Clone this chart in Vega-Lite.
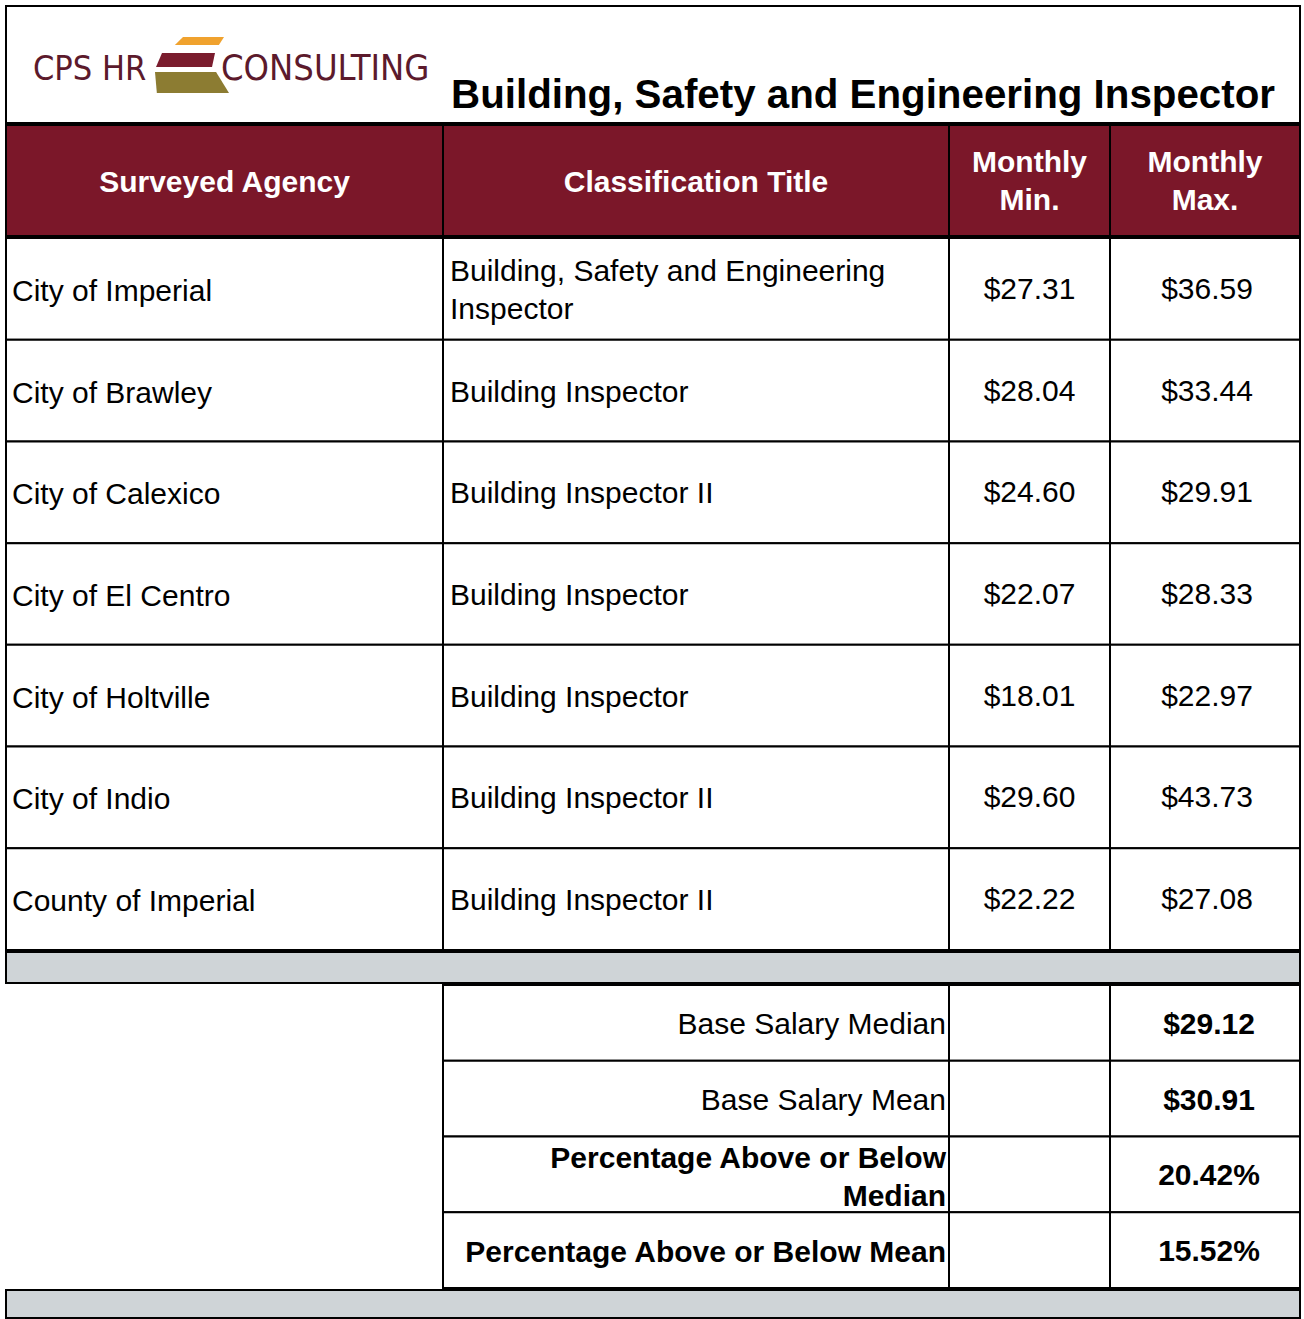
{
  "$schema": "https://vega.github.io/schema/vega-lite/v6.json",
  "padding": {"left": 5, "top": 5, "right": 0, "bottom": 0},
  "background": "white",
  "datasets": {
    "brand": [
      {"brand1": "CPS HR", "brand2": "CONSULTING", "heading": "Building, Safety and Engineering Inspector"}
    ],
    "agencies": [
      {"agency": "City of Imperial", "title": "Building, Safety and Engineering\nInspector", "min": 27.31, "max": 36.59},
      {"agency": "City of Brawley", "title": "Building Inspector", "min": 28.04, "max": 33.44},
      {"agency": "City of Calexico", "title": "Building Inspector II", "min": 24.60, "max": 29.91},
      {"agency": "City of El Centro", "title": "Building Inspector", "min": 22.07, "max": 28.33},
      {"agency": "City of Holtville", "title": "Building Inspector", "min": 18.01, "max": 22.97},
      {"agency": "City of Indio", "title": "Building Inspector II", "min": 29.60, "max": 43.73},
      {"agency": "County of Imperial", "title": "Building Inspector II", "min": 22.22, "max": 27.08}
    ],
    "summary": [
      {"label": "Base Salary Median", "value": "$29.12"},
      {"label": "Base Salary Mean", "value": "$30.91"},
      {"label": "Percentage Above or Below\nMedian", "value": "20.42%"},
      {"label": "Percentage Above or Below Mean", "value": "15.52%"}
    ]
  },
  "spacing": 0,
  "vconcat": [
    {
      "width": 1294,
      "height": 117,
      "data": {"name": "brand"},
      "layer": [
        {"mark": {"type": "rect", "fill": "white", "stroke": "black", "strokeWidth": 2}, "encoding": {}},
        {
          "mark": {"type": "point", "filled": true, "fill": "#f0a22e", "opacity": 1, "size": 2916, "strokeWidth": 0, "shape": "M -0.63 -0.15 L 0.89 -0.15 L 0.7 0.15 L -0.93 0.15 Z"},
          "encoding": {
            "x": {"datum": 194, "type": "quantitative", "scale": {"domain": [0, 1294], "nice": false}, "axis": null},
            "y": {"datum": 35, "type": "quantitative", "scale": {"domain": [0, 117], "reverse": true, "nice": false}, "axis": null}
          }
        },
        {
          "mark": {"type": "point", "filled": true, "fill": "#7a1c2e", "opacity": 1, "size": 3600, "strokeWidth": 0, "shape": "M -0.8 -0.233 L 0.967 -0.233 L 0.867 0.233 L -1 0.233 Z"},
          "encoding": {
            "x": {"datum": 180, "type": "quantitative"},
            "y": {"datum": 54, "type": "quantitative"}
          }
        },
        {
          "mark": {"type": "point", "filled": true, "fill": "#8c7c32", "opacity": 1, "size": 5476, "strokeWidth": 0, "shape": "M -1 -0.27 L 0.65 -0.27 L 1 0.3 L -0.95 0.3 Z"},
          "encoding": {
            "x": {"datum": 186, "type": "quantitative"},
            "y": {"datum": 76, "type": "quantitative"}
          }
        },
        {
          "mark": {"type": "text", "align": "left", "baseline": "alphabetic", "font": "DejaVu Sans Condensed, Liberation Sans", "fontSize": 34, "fill": "#5c1a2c"},
          "encoding": {
            "x": {"datum": 27, "type": "quantitative"},
            "y": {"datum": 74, "type": "quantitative"},
            "text": {"field": "brand1"}
          }
        },
        {
          "mark": {"type": "text", "align": "left", "baseline": "alphabetic", "font": "DejaVu Sans Condensed, Liberation Sans", "fontSize": 36, "fill": "#5c1a2c"},
          "encoding": {
            "x": {"datum": 215, "type": "quantitative"},
            "y": {"datum": 74, "type": "quantitative"},
            "text": {"field": "brand2"}
          }
        },
        {
          "mark": {"type": "text", "align": "right", "baseline": "alphabetic", "font": "Liberation Sans", "fontWeight": "bold", "fontSize": 40.3, "fill": "black"},
          "encoding": {
            "x": {"datum": 1269, "type": "quantitative"},
            "y": {"datum": 102, "type": "quantitative"},
            "text": {"field": "heading"}
          }
        }
      ]
    },
    {
      "spacing": 0,
      "bounds": "flush",
      "hconcat": [
        {
          "width": 437, "height": 111,
          "data": {"values": [{"h": "Surveyed Agency"}]},
          "layer": [
            {"mark": {"type": "rect", "fill": "#7b1729", "stroke": "black", "strokeWidth": 2}, "encoding": {}},
            {"mark": {"type": "text", "fill": "white", "fontWeight": "bold", "fontSize": 30, "dy": 2}, "encoding": {"text": {"field": "h"}}}
          ]
        },
        {
          "width": 506, "height": 111,
          "data": {"values": [{"h": "Classification Title"}]},
          "layer": [
            {"mark": {"type": "rect", "fill": "#7b1729", "stroke": "black", "strokeWidth": 2}, "encoding": {}},
            {"mark": {"type": "text", "fill": "white", "fontWeight": "bold", "fontSize": 30, "dy": 2}, "encoding": {"text": {"field": "h"}}}
          ]
        },
        {
          "width": 161, "height": 111,
          "data": {"values": [{"h": "Monthly\nMin."}]},
          "layer": [
            {"mark": {"type": "rect", "fill": "#7b1729", "stroke": "black", "strokeWidth": 2}, "encoding": {}},
            {"mark": {"type": "text", "fill": "white", "fontWeight": "bold", "fontSize": 30, "lineBreak": "\n", "lineHeight": 38, "dy": -18}, "encoding": {"text": {"field": "h"}}}
          ]
        },
        {
          "width": 190, "height": 111,
          "data": {"values": [{"h": "Monthly\nMax."}]},
          "layer": [
            {"mark": {"type": "rect", "fill": "#7b1729", "stroke": "black", "strokeWidth": 2}, "encoding": {}},
            {"mark": {"type": "text", "fill": "white", "fontWeight": "bold", "fontSize": 30, "lineBreak": "\n", "lineHeight": 38, "dy": -18}, "encoding": {"text": {"field": "h"}}}
          ]
        }
      ]
    },
    {
      "spacing": 0,
      "bounds": "flush",
      "hconcat": [
        {
          "width": 437, "height": 712,
          "data": {"name": "agencies"},
          "encoding": {"y": {"field": "agency", "type": "nominal", "sort": null, "scale": {"paddingInner": 0, "paddingOuter": 0}, "axis": null}},
          "layer": [
            {"mark": {"type": "rect", "fill": "white", "stroke": "black", "strokeWidth": 2}},
            {
              "mark": {"type": "text", "align": "left", "dx": 6, "dy": 3, "fontSize": 30, "fill": "black"},
              "encoding": {
                "x": {"datum": 0, "type": "quantitative", "scale": {"domain": [0, 1]}, "axis": null},
                "text": {"field": "agency"}
              }
            }
          ]
        },
        {
          "width": 506, "height": 712,
          "data": {"name": "agencies"},
          "encoding": {"y": {"field": "agency", "type": "nominal", "sort": null, "scale": {"paddingInner": 0, "paddingOuter": 0}, "axis": null}},
          "layer": [
            {"mark": {"type": "rect", "fill": "white", "stroke": "black", "strokeWidth": 2}},
            {
              "transform": [{"filter": {"not": {"field": "title", "oneOf": ["Building, Safety and Engineering\nInspector"]}}}],
              "mark": {"type": "text", "align": "left", "dx": 7, "dy": 2, "fontSize": 30, "fill": "black"},
              "encoding": {
                "x": {"datum": 0, "type": "quantitative", "scale": {"domain": [0, 1]}, "axis": null},
                "text": {"field": "title"}
              }
            },
            {
              "transform": [{"filter": {"field": "title", "oneOf": ["Building, Safety and Engineering\nInspector"]}}],
              "mark": {"type": "text", "align": "left", "dx": 7, "dy": -17, "fontSize": 30, "fill": "black", "lineBreak": "\n", "lineHeight": 38},
              "encoding": {
                "x": {"datum": 0, "type": "quantitative", "scale": {"domain": [0, 1]}, "axis": null},
                "text": {"field": "title"}
              }
            }
          ]
        },
        {
          "width": 161, "height": 712,
          "data": {"name": "agencies"},
          "encoding": {"y": {"field": "agency", "type": "nominal", "sort": null, "scale": {"paddingInner": 0, "paddingOuter": 0}, "axis": null}},
          "layer": [
            {"mark": {"type": "rect", "fill": "white", "stroke": "black", "strokeWidth": 2}},
            {
              "mark": {"type": "text", "fontSize": 30, "fill": "black", "dy": 1},
              "encoding": {"text": {"field": "min", "type": "quantitative", "format": "$.2f"}}
            }
          ]
        },
        {
          "width": 190, "height": 712,
          "data": {"name": "agencies"},
          "encoding": {"y": {"field": "agency", "type": "nominal", "sort": null, "scale": {"paddingInner": 0, "paddingOuter": 0}, "axis": null}},
          "layer": [
            {"mark": {"type": "rect", "fill": "white", "stroke": "black", "strokeWidth": 2}},
            {
              "mark": {"type": "text", "fontSize": 30, "fill": "black", "dy": 1, "dx": 2},
              "encoding": {"text": {"field": "max", "type": "quantitative", "format": "$.2f"}}
            }
          ]
        }
      ]
    },
    {
      "width": 1294, "height": 31,
      "data": {"values": [{"band": "separator"}]},
      "mark": {"type": "rect", "fill": "#cfd4d7", "stroke": "black", "strokeWidth": 2},
      "encoding": {}
    },
    {
      "spacing": 0,
      "bounds": "flush",
      "hconcat": [
        {
          "width": 437, "height": 303,
          "data": {"values": [{"band": "blank"}]},
          "mark": {"type": "rect", "opacity": 0},
          "encoding": {}
        },
        {
          "width": 506, "height": 303,
          "data": {"name": "summary"},
          "encoding": {"y": {"field": "label", "type": "nominal", "sort": null, "scale": {"paddingInner": 0, "paddingOuter": 0}, "axis": null}},
          "layer": [
            {"mark": {"type": "rect", "fill": "white", "stroke": "black", "strokeWidth": 2}},
            {
              "transform": [{"filter": {"field": "label", "oneOf": ["Base Salary Median", "Base Salary Mean"]}}],
              "mark": {"type": "text", "align": "right", "dx": -3, "dy": 2, "fontSize": 30, "fill": "black"},
              "encoding": {
                "x": {"datum": 1, "type": "quantitative", "scale": {"domain": [0, 1]}, "axis": null},
                "text": {"field": "label"}
              }
            },
            {
              "transform": [{"filter": {"field": "label", "oneOf": ["Percentage Above or Below Mean"]}}],
              "mark": {"type": "text", "align": "right", "dx": -3, "dy": 3, "fontSize": 30, "fontWeight": "bold", "fill": "black"},
              "encoding": {
                "x": {"datum": 1, "type": "quantitative", "scale": {"domain": [0, 1]}, "axis": null},
                "text": {"field": "label"}
              }
            },
            {
              "transform": [{"filter": {"field": "label", "oneOf": ["Percentage Above or Below\nMedian"]}}],
              "mark": {"type": "text", "align": "right", "dx": -3, "dy": -15, "fontSize": 30, "fontWeight": "bold", "fill": "black", "lineBreak": "\n", "lineHeight": 38},
              "encoding": {
                "x": {"datum": 1, "type": "quantitative", "scale": {"domain": [0, 1]}, "axis": null},
                "text": {"field": "label"}
              }
            }
          ]
        },
        {
          "width": 161, "height": 303,
          "data": {"name": "summary"},
          "mark": {"type": "rect", "fill": "white", "stroke": "black", "strokeWidth": 2},
          "encoding": {"y": {"field": "label", "type": "nominal", "sort": null, "scale": {"paddingInner": 0, "paddingOuter": 0}, "axis": null}}
        },
        {
          "width": 190, "height": 303,
          "data": {"name": "summary"},
          "encoding": {"y": {"field": "label", "type": "nominal", "sort": null, "scale": {"paddingInner": 0, "paddingOuter": 0}, "axis": null}},
          "layer": [
            {"mark": {"type": "rect", "fill": "white", "stroke": "black", "strokeWidth": 2}},
            {
              "mark": {"type": "text", "fontSize": 30, "fontWeight": "bold", "fill": "black", "dx": 4, "dy": 2},
              "encoding": {"text": {"field": "value"}}
            }
          ]
        }
      ]
    },
    {
      "width": 1294, "height": 28,
      "data": {"values": [{"band": "footer"}]},
      "mark": {"type": "rect", "fill": "#cfd4d7", "stroke": "black", "strokeWidth": 2},
      "encoding": {}
    }
  ],
  "config": {
    "font": "Liberation Sans",
    "view": {"stroke": null},
    "concat": {"spacing": 0},
    "text": {"font": "Liberation Sans"}
  }
}
